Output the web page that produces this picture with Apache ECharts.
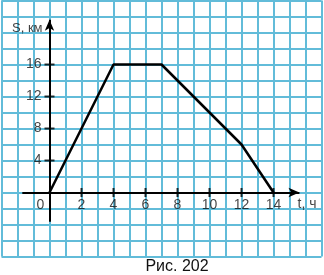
<!DOCTYPE html>
<html><head><meta charset="utf-8">
<script src="https://cdn.jsdelivr.net/npm/echarts@6/dist/echarts.min.js"></script>
<style>html,body{margin:0;padding:0;background:#fff}#c{width:324px;height:275px}</style>
</head><body><div id="c"></div>
<script>
const tValues = [0, 4, 7, 12, 14];
const sValues = [0, 16, 16, 6, 0];
const xTickValues = [2, 4, 6, 8, 10, 12, 14];
const yTickValues = [4, 8, 12, 16];
const xLabel = 't, ч';
const yLabel = 'S, км';
const caption = 'Рис. 202';

const FONT = '"Liberation Sans", Arial, sans-serif';
const gridColor = '#62bcd9';
const chart = echarts.init(document.getElementById('c'), null, {renderer: 'canvas'});
chart.setOption({
  animation: false,
  backgroundColor: '#fff',
  grid: {left: 1.5, top: 0.5, width: 320, height: 256, containLabel: false},
  xAxis: {type: 'value', min: -3, max: 17, interval: 1,
    axisLine: {show: false}, axisTick: {show: false}, axisLabel: {show: false},
    splitLine: {show: true, lineStyle: {color: gridColor, width: 2}}},
  yAxis: {type: 'value', min: -8, max: 24, interval: 2,
    axisLine: {show: false}, axisTick: {show: false}, axisLabel: {show: false},
    splitLine: {show: true, lineStyle: {color: gridColor, width: 2}}},
  graphic: [{type: 'text', x: 177, y: 267, style: {text: caption, font: '16px ' + FONT, fill: '#111',
    textAlign: 'center', textVerticalAlign: 'middle'}}],
  series: [
    {type: 'line', data: [], silent: true,
      markLine: {silent: true, symbol: ['none', 'arrow'], symbolSize: [7, 11], label: {show: false},
        lineStyle: {color: '#000', width: 2, type: 'solid'},
        data: [
          [{coord: [-1.7, 0]}, {coord: [15.62, 0]}],
          [{coord: [0, -3.66]}, {coord: [0, 21.6]}]
        ]}},
    {type: 'scatter', silent: true, symbol: 'rect', symbolSize: [2, 9], z: 3,
      itemStyle: {color: '#000'},
      data: xTickValues.map(v => [v, 0]),
      label: {show: true, position: 'bottom', distance: 1.5, color: '#111', fontSize: 14, fontFamily: FONT,
        formatter: p => String(p.value[0])}},
    {type: 'scatter', silent: true, symbol: 'rect', symbolSize: [10, 2], z: 3,
      itemStyle: {color: '#000'},
      data: yTickValues.map(v => [0, v]),
      label: {show: true, position: 'left', distance: 3, color: '#111', fontSize: 14, fontFamily: FONT,
        formatter: p => String(p.value[1])}},
    {type: 'scatter', silent: true, symbolSize: 0, z: 3,
      data: [[0, 0]],
      label: {show: true, position: [-9, 12.5], align: 'center', verticalAlign: 'middle', color: '#111', fontSize: 14, fontFamily: FONT,
        formatter: '0'}},
    {type: 'scatter', silent: true, symbolSize: 0, z: 3,
      data: [[0, 20.5]],
      label: {show: true, position: 'left', distance: 7, color: '#111', fontSize: 13, fontFamily: FONT,
        formatter: yLabel}},
    {type: 'scatter', silent: true, symbolSize: 0, z: 3,
      data: [[16.1, 0]],
      label: {show: true, position: [0, 11.5], align: 'center', verticalAlign: 'middle', color: '#111', fontSize: 14, fontFamily: FONT,
        formatter: xLabel}},
    {type: 'line', silent: true, z: 4, symbol: 'none',
      data: tValues.map((t, i) => [t, sValues[i]]),
      lineStyle: {color: '#000', width: 2.5}}
  ]
});
</script></body></html>
